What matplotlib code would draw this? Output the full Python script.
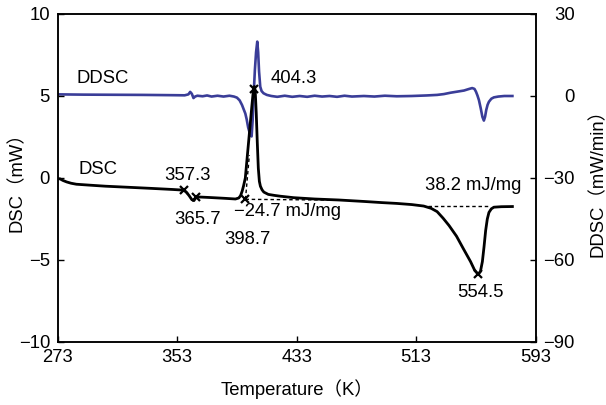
import matplotlib
matplotlib.use("Agg")
import matplotlib.pyplot as plt

plt.rcParams['font.family'] = ['Liberation Sans', 'Noto Sans CJK JP', 'DejaVu Sans']
plt.rcParams['font.size'] = 13.3

# DSC curve (mW)
dsc_T = [273.0, 274.5, 276.5, 279, 282, 285.5, 295, 305, 319, 335, 350, 357.3, 359, 361, 362.8,
         364.2, 365.7, 368, 375, 385, 392, 394.2, 395.4, 396.5, 397.5, 398.6, 400, 401.5, 403,
         404.0, 404.6, 405.2, 405.9, 406.6, 407.3, 408.0, 408.7, 409.8, 411, 414, 418, 422, 431,
         445, 461, 478, 490, 500, 510, 518, 523, 527, 531, 535, 540, 544.5, 549.4, 552, 554.5,
         556, 557.3, 558.4, 559.5, 560.6, 561.7, 563.3, 565, 570, 577.4]
dsc_val = [-0.05, -0.05, -0.15, -0.24, -0.32, -0.38, -0.44, -0.50, -0.56, -0.63, -0.70, -0.74,
           -0.85, -1.08, -1.32, -1.38, -1.17, -1.16, -1.19, -1.24, -1.28, -1.22, -1.08, -0.80,
           -0.45, 0.0, 1.4, 2.9, 4.4, 5.35, 5.58, 5.35, 4.0, 2.2, 0.6, -0.2, -0.5, -0.72, -0.86,
           -1.0, -1.06, -1.11, -1.2, -1.28, -1.34, -1.43, -1.5, -1.55, -1.62, -1.71, -1.85, -2.05,
           -2.45, -2.9, -3.55, -4.3, -5.1, -5.6, -5.88, -5.7, -5.1, -4.2, -3.2, -2.5, -2.1, -1.88,
           -1.78, -1.75, -1.74]

# DDSC curve (mW/min)
ddsc_T = [273.0, 290, 310, 330, 350, 358, 360.5, 361.7, 362.8, 363.9, 365, 366.5, 370, 373, 376,
          380, 384, 388, 391, 393, 394.8, 396.4, 397.6, 398.6, 399.5, 400.5, 401.8, 402.8, 403.5,
          404.1, 405.0, 405.8, 406.6, 407.2, 407.8, 408.6, 409.5, 410.8, 413, 416, 420, 425, 430,
          435, 440, 445, 450, 455, 460, 465, 470, 478, 485, 492, 500, 510, 520, 527, 531.5, 536,
          540.5, 545, 548.5, 550.5, 552, 553, 554, 555, 556.2, 557.3, 558.3, 559.1, 559.9, 560.8,
          561.7, 563.3, 565, 568, 572, 577.4]
ddsc_val = [0.6, 0.5, 0.45, 0.4, 0.3, 0.25, 0.6, 1.5, 0.8, -0.75, -0.2, 0.1, -0.1, 0.2, -0.2,
            0.1, -0.2, 0.1, -0.2, -0.6, -1.6, -3.3, -5.0, -6.4, -8.5, -11.5, -14.0, -14.8, -9.0,
            -0.5, 9.5, 16.0, 19.9, 16.0, 9.0, 3.4, 1.8, 1.0, 0.4, 0.0, -0.3, 0.1, -0.3, 0.0,
            -0.3, 0.1, -0.2, 0.0, -0.3, 0.1, -0.2, 0.0, -0.2, 0.1, -0.1, 0.0, 0.2, 0.4, 0.7, 1.2,
            1.6, 2.0, 2.6, 2.9, 2.6, 1.6, 0.2, -1.5, -4.5, -7.6, -9.0, -7.6, -5.1, -3.2, -2.1,
            -1.0, -0.5, -0.2, 0.0, 0.0]

# characteristic points (marked with x)
mark_T = [357.3, 365.7, 398.7, 404.3, 554.5]
mark_val = [-0.74, -1.17, -1.3, 5.45, -5.88]

# dashed construction lines
base1_T = [398.7, 463]
base1_val = [-1.3, -1.35]
tang_T = [398.7, 401.3]
tang_val = [-1.3, 1.4]
base2_T = [521, 561]
base2_val = [-1.72, -1.72]

# annotations: text, T, DSC
ann_text = ["357.3", "365.7", "398.7", "404.3", "554.5", "\u221224.7 mJ/mg", "38.2 mJ/mg"]
ann_T = [360.0, 366.7, 400.2, 431.2, 556.1, 390.7, 551.2]
ann_val = [0.18, -2.56, -3.78, 6.08, -6.98, -2.05, -0.48]
ann_ha = ["center", "center", "center", "center", "center", "left", "center"]

x_ticks = [273, 353, 433, 513, 593]
dsc_ticks = [-10, -5, 0, 5, 10]
ddsc_ticks = [-90, -60, -30, 0, 30]

fig = plt.figure(figsize=(6.06, 4.05), dpi=100)
ax = fig.add_axes([57.7 / 606, 63 / 405, 478 / 606, 328 / 405])
ax2 = ax.twinx()

blue = "#3a3d98"
ax2.plot(ddsc_T, ddsc_val, color=blue, lw=1.9, solid_joinstyle='round')
ax.plot(dsc_T, dsc_val, color="black", lw=2.0, solid_joinstyle='round')
ax.plot(base1_T, base1_val, color="black", lw=1.0, ls=(0, (2.5, 2)))
ax.plot(tang_T, tang_val, color="black", lw=1.0, ls=(0, (2.5, 2)))
ax.plot(base2_T, base2_val, color="black", lw=1.0, ls=(0, (2.5, 2)))
ax.plot(mark_T, mark_val, ls='none', marker='x', color='black', ms=6, mew=1.6)

ax.set_zorder(ax2.get_zorder() + 1)
ax.patch.set_visible(False)

for t, x, y, ha in zip(ann_text, ann_T, ann_val, ann_ha):
    ax.text(x, y, t, ha=ha, va='center')
ax.text(285.7, 6.08, "DDSC", ha='left', va='center')
ax.text(286.8, 0.49, "DSC", ha='left', va='center')

ax.set_xlim(273, 593)
ax.set_ylim(-10, 10)
ax2.set_ylim(-90, 30)
ax.set_xticks(x_ticks)
ax.set_yticks(dsc_ticks)
ax2.set_yticks(ddsc_ticks)

ax.tick_params(axis='both', direction='in', length=4, width=1, labelsize=13.3)
ax.tick_params(axis='x', pad=5)
ax.tick_params(axis='y', pad=5.5)
ax2.tick_params(axis='y', direction='in', length=4, width=1, labelsize=13.3, pad=28)
for lbl in ax2.get_yticklabels():
    lbl.set_horizontalalignment('right')

for a in (ax, ax2):
    for s in a.spines.values():
        s.set_linewidth(1.1)

ax.set_xlabel("Temperature\uff08K\uff09")
ax.xaxis.label.set_va('center')
ax.xaxis.set_label_coords(0.5, -0.143)
ax.set_ylabel("DSC\uff08mW\uff09")
ax.yaxis.label.set_va('center')
ax.yaxis.set_label_coords(-0.085, 0.5)
ax2.set_ylabel("DDSC\uff08mW/min\uff09", rotation=90)
ax2.yaxis.label.set_va('center')
ax2.yaxis.set_label_coords(1.131, 0.5)

fig.savefig("out.png", dpi=100)
